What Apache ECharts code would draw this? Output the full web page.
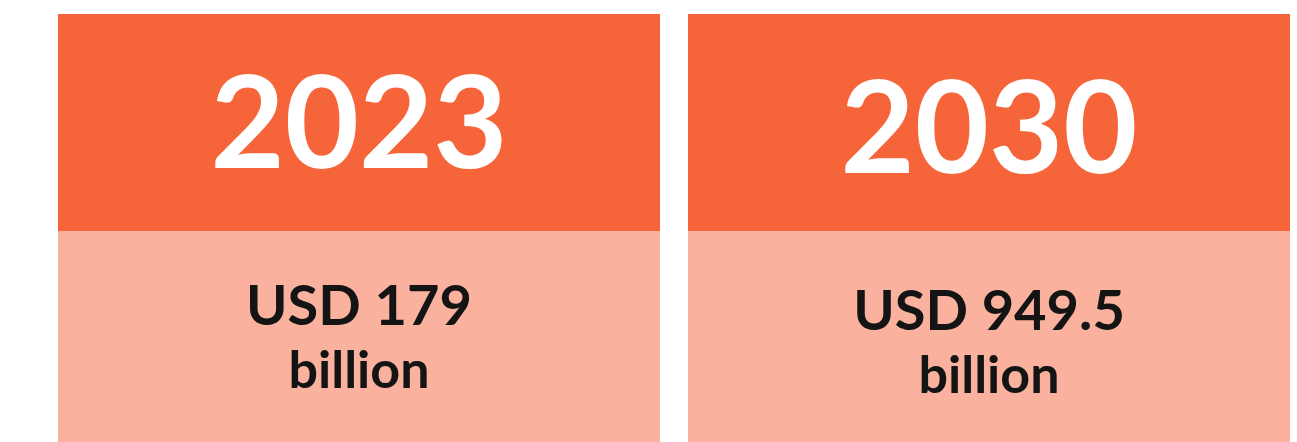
<!DOCTYPE html>
<html>
<head>
<meta charset="utf-8">
<script src="https://cdn.jsdelivr.net/npm/echarts@6/dist/echarts.min.js"></script>
<style>
  html, body { margin: 0; padding: 0; background: #fff; }
  #chart { width: 1297px; height: 442px; }
</style>
</head>
<body>
<div id="chart"></div>
<script>
// 数据
const years = ["2023", "2030"];
const marketValues = ["179", "949.5"];
const currency = "USD";
const unit = "billion";

const chart = echarts.init(document.getElementById("chart"));

// 右边卡片的文字稍微低一点
const textShift = [0, 5];

function cardData(h, dy) {
  return years.map((y, i) => ({
    value: h,
    label: { offset: [0, textShift[i] + dy] }
  }));
}

// 两块卡片：上面橙色年份，下面浅色金额
// boundaryGap: false 让两个类目落在网格左右两端（卡片中心）
chart.setOption({
  animation: false,
  grid: { left: 359, right: 308, top: 14, bottom: 0 },
  xAxis: {
    type: "category",
    data: years,
    boundaryGap: false,
    show: false
  },
  yAxis: {
    type: "value",
    min: 0,
    max: 428,
    show: false
  },
  series: [
    {
      type: "bar",
      stack: "card",
      barWidth: 602,
      clip: false,
      data: cardData(211, 1),
      itemStyle: { color: "#FAB19D" },
      label: {
        show: true,
        position: "inside",
        formatter: (p) =>
          "{v|" + currency + " " + marketValues[p.dataIndex] + "}\n{u|" + unit + "}",
        rich: {
          v: {
            fontFamily: "Lato",
            fontWeight: "bold",
            fontSize: 56,
            color: "#141414",
            lineHeight: 68
          },
          u: {
            fontFamily: "Lato",
            fontWeight: "bold",
            fontSize: 52,
            color: "#141414",
            lineHeight: 62
          }
        }
      }
    },
    {
      type: "bar",
      stack: "card",
      barWidth: 602,
      clip: false,
      data: cardData(217, 4),
      itemStyle: { color: "#F66439" },
      label: {
        show: true,
        position: "inside",
        formatter: (p) => years[p.dataIndex],
        fontFamily: "Lato",
        fontWeight: "bold",
        fontSize: 128,
        color: "#ffffff"
      }
    }
  ]
});
</script>
</body>
</html>
